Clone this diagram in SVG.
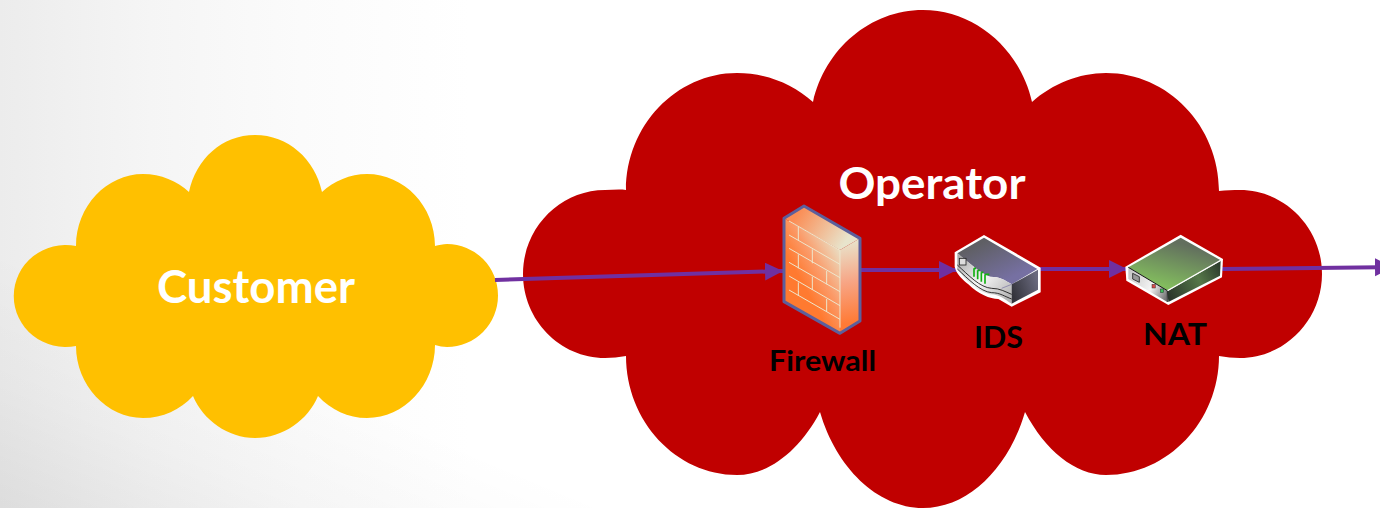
<svg xmlns="http://www.w3.org/2000/svg" width="1380" height="508" viewBox="0 0 1380 508">
<defs>
<linearGradient id="bg" gradientUnits="userSpaceOnUse" x1="0" y1="0" x2="470" y2="0"><stop offset="0" stop-color="#ececec"/><stop offset="0.32" stop-color="#f5f5f5"/><stop offset="0.64" stop-color="#fbfbfb"/><stop offset="1" stop-color="#fff"/></linearGradient>
<linearGradient id="bgShade" gradientUnits="userSpaceOnUse" x1="0" y1="508" x2="92" y2="288"><stop offset="0" stop-color="#000" stop-opacity="0.065"/><stop offset="0.5" stop-color="#000" stop-opacity="0.025"/><stop offset="1" stop-color="#000" stop-opacity="0"/></linearGradient>
<linearGradient id="fwFront" gradientUnits="userSpaceOnUse" x1="100" y1="215" x2="235" y2="140"><stop offset="0" stop-color="#ff7a30"/><stop offset="0.4" stop-color="#fb9a68"/><stop offset="1" stop-color="#e8e4cc"/></linearGradient>
<linearGradient id="fwTop" gradientUnits="userSpaceOnUse" x1="110" y1="60" x2="250" y2="150"><stop offset="0" stop-color="#fb8d55"/><stop offset="1" stop-color="#e8e4cc"/></linearGradient>
<linearGradient id="fwSide" gradientUnits="userSpaceOnUse" x1="245" y1="140" x2="290" y2="380"><stop offset="0" stop-color="#e8e4cc"/><stop offset="0.5" stop-color="#f7a585"/><stop offset="1" stop-color="#ff7a35"/></linearGradient>
<linearGradient id="idsTop" gradientUnits="userSpaceOnUse" x1="130" y1="50" x2="190" y2="170"><stop offset="0" stop-color="#5f5f64"/><stop offset="1" stop-color="#7670a2"/></linearGradient>
<linearGradient id="idsSide" gradientUnits="userSpaceOnUse" x1="215" y1="200" x2="295" y2="170"><stop offset="0" stop-color="#34343c"/><stop offset="1" stop-color="#6a6a7e"/></linearGradient>
<linearGradient id="idsFront" gradientUnits="userSpaceOnUse" x1="60" y1="90" x2="200" y2="220"><stop offset="0" stop-color="#a8a8a8"/><stop offset="0.5" stop-color="#f6f6f6"/><stop offset="1" stop-color="#b8b8b8"/></linearGradient>
<linearGradient id="natTop" gradientUnits="userSpaceOnUse" x1="210" y1="55" x2="175" y2="185"><stop offset="0" stop-color="#626f5e"/><stop offset="1" stop-color="#82bb5e"/></linearGradient>
<linearGradient id="natSide" gradientUnits="userSpaceOnUse" x1="175" y1="215" x2="330" y2="130"><stop offset="0" stop-color="#2b352b"/><stop offset="0.6" stop-color="#557748"/><stop offset="1" stop-color="#2f3f2f"/></linearGradient>
<linearGradient id="natFront" gradientUnits="userSpaceOnUse" x1="55" y1="150" x2="172" y2="210"><stop offset="0" stop-color="#c8c8c8"/><stop offset="0.6" stop-color="#f4f4f4"/><stop offset="1" stop-color="#777"/></linearGradient>
<marker id="arrow" markerUnits="userSpaceOnUse" markerWidth="20" markerHeight="20" refX="18" refY="9" orient="auto"><path d="M0,0 L18,9 L0,18 Z" fill="#7030a0"/></marker>
</defs>
<style>
.conn{fill:none;stroke:#7030a0;stroke-width:4;marker-end:url(#arrow)}
.big{font-family:Lato,"Open Sans","Liberation Sans",sans-serif;font-weight:700;fill:#fff;text-anchor:middle}
.lab{font-family:Lato,"Open Sans","Liberation Sans",sans-serif;font-weight:700;fill:#000;text-anchor:middle}
.brick{stroke:#eee6cc;stroke-width:3;fill:none}
.blk{fill:none;stroke:#111;stroke-width:2.5}
</style>
<rect width="1380" height="508" fill="url(#bg)"/>
<rect width="1380" height="508" fill="url(#bgShade)"/>
<g id="customer">
<path fill="#ffc000" d="M76,246 A52,51 0 1 0 76,346 C76,385 107,418 143,418 C163,418 180,410 193,396 C203,420 228,438 255,438 C283,438 308,420 318,396 C331,410 348,418 367,418 C404,418 435,385 435,345 C439,346 443,347 447,347 A51,51.500 0 1 0 447,244 C443,244 439,245 435,246 C435,206 404,174 367,174 C350,174 334,181 322,192 C315,159 288,135 255,135 C222,135 196,159 189,192 C177,181 161,174 143,174 C107,174 76,206 76,246 Z"/>
<text class="big" x="256" y="303" font-size="45" textLength="198" lengthAdjust="spacingAndGlyphs">Customer</text>
</g>
<g id="operator">
<path fill="#c00000" d="M626,190 C619,189 612,190 605,190 C560,190 523,228 523,274 C523,320 560,358 605,358 C612,358 619,357 626,356 C626,421 676,475 737,475 C769,475 800,450 820,412 C836,467 877,508 923,508 C969,508 1009,467 1025,412 C1045,450 1075,475 1106,475 C1168,475 1219,421 1219,356 C1226,357 1233,358 1240,358 C1285,358 1322,320 1322,274 C1322,228 1285,190 1240,190 C1233,190 1226,190 1219,191 C1219,126 1168,73 1106,73 C1079,73 1052,84 1032,102 C1020,49 975,10 923,10 C870,10 825,49 813,102 C793,84 766,73 737,73 C676,73 626,126 626,190 Z"/>
<text class="big" x="932" y="199" font-size="44" textLength="187" lengthAdjust="spacingAndGlyphs">Operator</text>
</g>
<g id="connectors">
<path class="conn" d="M495,280 L783,271"/>
<path class="conn" d="M860,270 L957,270"/>
<path class="conn" d="M1037,269 L1127,269"/>
<path class="conn" d="M1222,269 L1393,267"/>
</g>
<g id="firewall">
<g transform="translate(760 195) scale(0.33333)">
<path d="M72,70 L240,165 L240,415 L72,320 Z" fill="url(#fwFront)"/>
<path d="M72,70 L132,33 L300,130 L240,165 Z" fill="url(#fwTop)"/>
<path d="M240,165 L300,130 L300,378 L240,415 Z" fill="url(#fwSide)"/>
<path class="brick" d="M87,78 L240,166 M87,120 L240,208 M87,160 L240,248 M87,202 L240,290 M87,243 L240,332 M87,285 L240,373 M240,166 V398 M115,95 V135 M157,163 V205 M115,178 V220 M200,228 V268 M157,245 V285 M115,262 V302 M200,312 V350"/>
<path d="M72,70 L132,33 L300,130 L300,378 L240,415 L72,320 Z" fill="none" stroke="#5c5f9c" stroke-width="9" stroke-linejoin="round"/>
</g>
<text class="lab" x="822.500" y="371" font-size="28" textLength="107" lengthAdjust="spacingAndGlyphs">Firewall</text>
</g>
<g id="ids">
<g transform="translate(940 225) scale(0.33333)">
<path d="M132,30 L302,128 L302,202 L215,245 L175,222 C150,222 115,208 85,178 C70,165 50,150 44,125 L44,82 Z" fill="#fff"/>
<path d="M52,85 L132,38 L292,132 L215,178 C195,165 180,155 150,155 C120,145 90,115 52,85 Z" fill="url(#idsTop)"/>
<path d="M52,85 C90,115 120,145 150,155 C180,155 195,165 215,178 L215,236 C195,225 180,208 150,208 C110,200 75,165 52,130 Z" fill="url(#idsFront)"/>
<path d="M215,178 L294,134 L294,194 L215,236 Z" fill="url(#idsSide)"/>
<path class="blk" d="M52,120 C85,150 120,188 155,190 C180,190 195,200 215,208 M52,132 C85,162 120,200 155,203 C180,203 195,215 215,222"/>
<path d="M185,190 L215,178" stroke="#7670a2" stroke-width="2" fill="none"/>
<rect x="58" y="100" width="20" height="20" fill="#ddd" stroke="#222" stroke-width="2.500"/>
<path d="M102,130 V155 M113,136 V163 M124,142 V170 M135,148 V176 M102,130 H108 M113,136 H119 M124,142 H130 M135,148 H148" stroke="#12b012" stroke-width="5" fill="none"/>
</g>
<text class="lab" x="998.500" y="348" font-size="31" textLength="49" lengthAdjust="spacingAndGlyphs">IDS</text>
</g>
<g id="nat">
<g transform="translate(1110 225) scale(0.33333)">
<path d="M212,29 L339,102 L336,157 L175,240 L49,167 L46,125 Z" fill="#fff"/>
<path d="M55,127 L212,38 L332,106 L172,197 Z" fill="url(#natTop)"/>
<path d="M55,127 L172,197 L172,231 L55,162 Z" fill="url(#natFront)"/>
<path d="M172,199 L332,108 L330,152 L175,231 Z" fill="url(#natSide)"/>
<path d="M55,127 L172,197" stroke="#111" stroke-width="3" fill="none"/>
<path d="M172,197 L332,106" stroke="#fff" stroke-width="3.500" fill="none"/>
<path d="M172,197 V231" stroke="#111" stroke-width="2.500" fill="none"/>
<path d="M68,145 L88,155 V172 L68,162 Z" fill="#999" stroke="#222" stroke-width="2.500"/>
<rect x="126" y="178" width="10" height="11" fill="#d84a4a" stroke="#333" stroke-width="1.500"/>
<rect x="151" y="192" width="10" height="11" fill="#3bbf5a" stroke="#333" stroke-width="1.500"/>
</g>
<text class="lab" x="1175" y="345" font-size="31" textLength="64" lengthAdjust="spacingAndGlyphs">NAT</text>
</g>
</svg>
